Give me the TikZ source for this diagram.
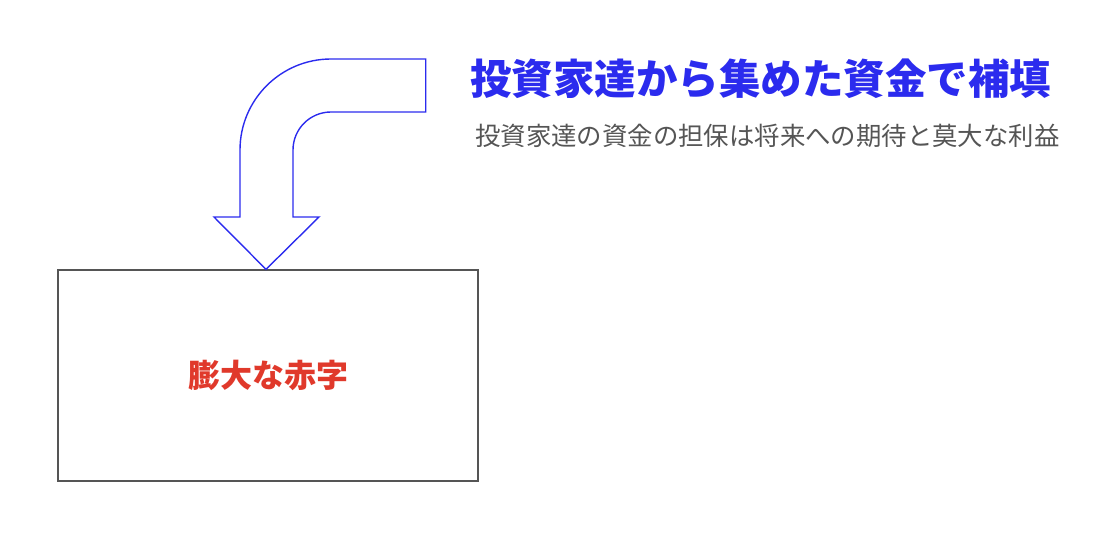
\documentclass[tikz,border=0pt]{standalone}
\usepackage{fontspec}
\usepackage{xcolor}
\newfontfamily\cjk{Noto Sans CJK JP}
\definecolor{fundblue}{HTML}{2B2BEE}
\definecolor{lossred}{HTML}{E0392B}
\definecolor{textgray}{HTML}{555555}
\usepackage{tikz}
\usetikzlibrary{positioning}
\tikzset{
    headline/.style={
        anchor=west, inner sep=0pt,
        text=fundblue,
        font=\cjk\bfseries\fontsize{41.5}{48}\selectfont
    },
    subline/.style={
        anchor=west, inner sep=0pt,
        text=textgray,
        font=\cjk\fontsize{25.4}{30}\selectfont
    },
    lossbox/.style={
        rectangle, draw=textgray, line width=1.3pt,
        minimum width=420pt, minimum height=211pt,
        text=lossred,
        font=\cjk\bfseries\fontsize{32}{38}\selectfont
    },
    bendarrow/.style={
        draw=fundblue, line width=1.4pt, line join=miter
    },
}

\begin{document}
\begin{tikzpicture}[x=1pt, y=-1pt]
        \useasboundingbox (0,0) rectangle (1100,534);

        \node[headline] (title) at (470,79) {投資家達から集めた資金で補填};
        \node[subline, below=25pt of title.south west, anchor=north west, xshift=5pt] (note) {投資家達の資金の担保は将来への期待と莫大な利益};

        \node[lossbox] (deficit) at (268,375.5) {膨大な赤字};

        % bent arrow into the box
        \draw[bendarrow] (425.7,59) -- (331,59) arc (270:180:91) -- (240,217)
            -- (214,217) -- (deficit.north -| 266,0) -- (319,217) -- (293,217)
            -- (293,150) arc (180:270:38) -- (425.7,112) -- cycle;
\end{tikzpicture}
\end{document}
